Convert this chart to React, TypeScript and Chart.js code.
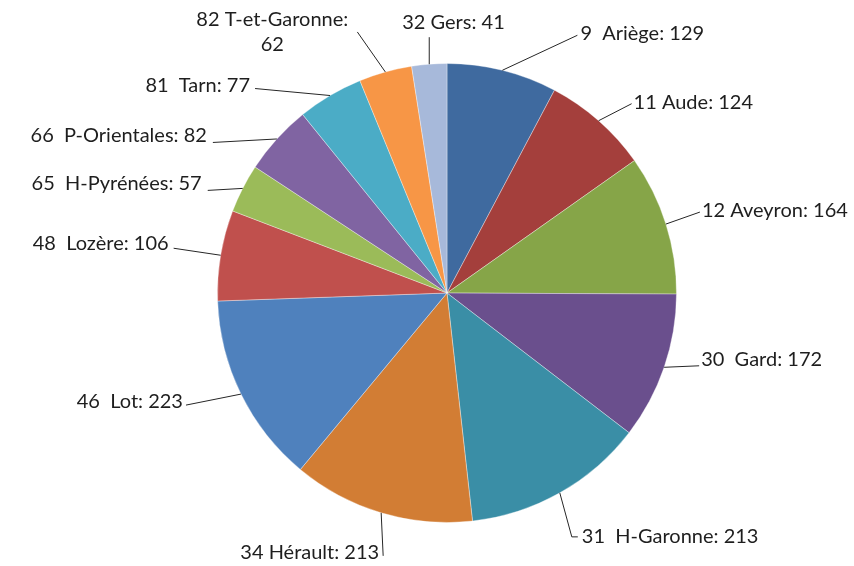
import React, { useEffect, useRef } from "react";
import { Chart, registerables } from "chart.js";

Chart.register(...registerables);

// ---- Data ----
const departments: string[] = [
  "9  Ariège",
  "11 Aude",
  "12 Aveyron",
  "30  Gard",
  "31  H-Garonne",
  "34 Hérault",
  "46  Lot",
  "48  Lozère",
  "65  H-Pyrénées",
  "66  P-Orientales",
  "81  Tarn",
  "82 T-et-Garonne",
  "32 Gers",
];
const counts: number[] = [129, 124, 164, 172, 213, 213, 223, 106, 57, 82, 77, 62, 41];

// ---- Styles ----
const sliceColors: string[] = [
  "#3F6A9F",
  "#A43F3C",
  "#86A548",
  "#6A4F8D",
  "#3A8EA6",
  "#D27D34",
  "#4F81BD",
  "#C0504D",
  "#9BBB59",
  "#8064A2",
  "#4BACC6",
  "#F79646",
  "#A7B9DA",
];

// leader-line layout relative to each slice's outer mid-point
type Lay = { dx: number; dy: number; h: number; tx: number; ty: number; align: CanvasTextAlign; wrap?: boolean };
const labelLayout: Lay[] = [
  { dx: 75, dy: -35, h: 0, tx: 3, ty: -2, align: "left" },
  { dx: 33, dy: -17, h: 0, tx: 2, ty: -1, align: "left" },
  { dx: 34, dy: -12, h: 0, tx: 2, ty: -2, align: "left" },
  { dx: 35, dy: -1.5, h: 0, tx: 2, ty: -6, align: "left" },
  { dx: 12, dy: 44, h: 6, tx: 4, ty: 0, align: "left" },
  { dx: 2, dy: 43, h: 0, tx: -4, ty: -3, align: "right" },
  { dx: -55, dy: 11, h: 0, tx: -3, ty: -4, align: "right" },
  { dx: -47, dy: -7, h: 0, tx: -5, ty: -5, align: "right" },
  { dx: -35, dy: 2, h: 0, tx: -6, ty: -7, align: "right" },
  { dx: -64, dy: 3.5, h: 0, tx: -6, ty: -7, align: "right" },
  { dx: -75, dy: -7, h: 0, tx: -5, ty: -3, align: "right" },
  { dx: -28, dy: -40, h: 0, tx: -85, ty: -12, align: "center", wrap: true },
  { dx: 0, dy: -27, h: 0, tx: -27, ty: -15, align: "left" },
];

const FONT = "20px Lato";
const TEXT_COLOR = "#1E1E1E";

export default function App() {
  const ref = useRef<HTMLCanvasElement>(null);

  useEffect(() => {
    if (!ref.current) return;
    const labelPlugin = {
      id: "outerLabels",
      afterDatasetsDraw(chart: any) {
        const ctx: CanvasRenderingContext2D = chart.ctx;
        const meta = chart.getDatasetMeta(0);
        ctx.save();
        ctx.font = FONT;
        ctx.fillStyle = TEXT_COLOR;
        ctx.strokeStyle = "#262626";
        ctx.lineWidth = 1;
        ctx.textBaseline = "middle";
        meta.data.forEach((arc: any, i: number) => {
          const p = arc.getProps(["x", "y", "startAngle", "endAngle", "outerRadius"], true);
          const mid = (p.startAngle + p.endAngle) / 2;
          const ax = p.x + Math.cos(mid) * p.outerRadius;
          const ay = p.y + Math.sin(mid) * p.outerRadius;
          const L = labelLayout[i];
          const ex = ax + L.dx;
          const ey = ay + L.dy;
          const fx = ex + L.h;
          ctx.beginPath();
          ctx.moveTo(ax, ay);
          ctx.lineTo(ex, ey);
          if (L.h !== 0) ctx.lineTo(fx, ey);
          ctx.stroke();
          ctx.textAlign = L.align;
          if (L.wrap) {
            ctx.fillText(`${departments[i]}:`, fx + L.tx, ey + L.ty);
            ctx.fillText(`${counts[i]}`, fx + L.tx, ey + L.ty + 25);
          } else {
            ctx.fillText(`${departments[i]}: ${counts[i]}`, fx + L.tx, ey + L.ty);
          }
        });
        ctx.restore();
      },
    };

    const chart = new Chart(ref.current, {
      type: "pie",
      data: {
        labels: departments,
        datasets: [
          {
            data: counts,
            backgroundColor: sliceColors,
            borderColor: "rgba(255,255,255,0.35)",
            borderWidth: 1,
          },
        ],
      },
      options: {
        animation: false,
        responsive: true,
        maintainAspectRatio: false,
        layout: { padding: { left: 217, right: 177, top: 63, bottom: 43 } },
        plugins: {
          legend: { display: false },
          tooltip: { enabled: false },
        },
      },
      plugins: [labelPlugin],
    });
    return () => chart.destroy();
  }, []);

  return (
    <div style={{ position: "fixed", left: 0, top: 0, width: 854, height: 566, background: "#fff" }}>
      <canvas ref={ref} />
    </div>
  );
}
